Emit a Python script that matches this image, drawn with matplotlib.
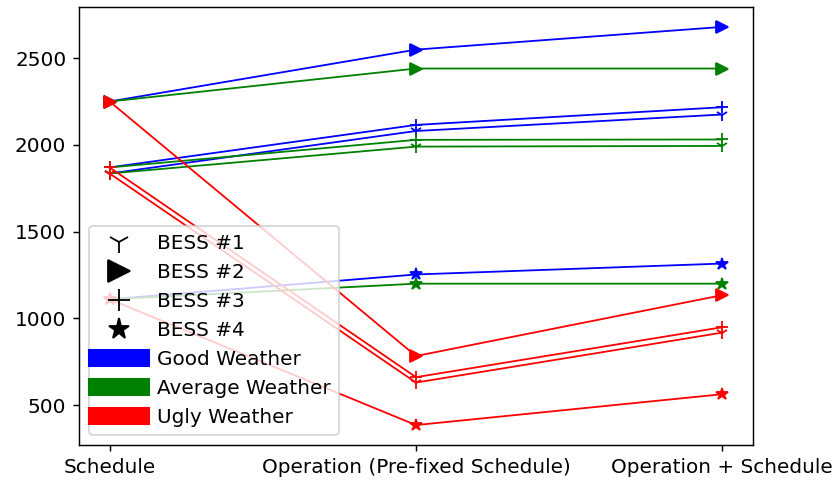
import matplotlib
matplotlib.use("Agg")
import matplotlib.pyplot as plt
from matplotlib.lines import Line2D

stages = ["Schedule", "Operation (Pre-fixed Schedule)", "Operation + Schedule"]

bess_names = ["BESS #1", "BESS #2", "BESS #3", "BESS #4"]
bess_markers = ["1", ">", "+", "*"]

weather_names = ["Good Weather", "Average Weather", "Ugly Weather"]
weather_colors = ["blue", "green", "red"]

# values per BESS (#1..#4) for each stage
good = [
    [1835, 2080, 2175],
    [2250, 2549, 2680],
    [1870, 2115, 2217],
    [1110, 1253, 1316],
]
average = [
    [1835, 1990, 1994],
    [2250, 2440, 2440],
    [1870, 2029, 2031],
    [1110, 1200, 1200],
]
ugly = [
    [1835, 630, 918],
    [2250, 783, 1134],
    [1870, 661, 949],
    [1110, 385, 563],
]

plt.rcParams["font.size"] = 11.1

fig = plt.figure(figsize=(835 / 130, 482 / 130), dpi=130)
ax = fig.add_axes([0.0946, 0.0768, 0.8072, 0.9087])

x = list(range(len(stages)))
for color, series in zip(weather_colors, [good, average, ugly]):
    for marker, vals in zip(bess_markers, series):
        ax.plot(x, vals, color=color, marker=marker, markersize=7, linewidth=1)

ax.set_xticks(x)
ax.set_xticklabels(stages)

handles = [
    Line2D([], [], color="black", marker=m, linestyle="none", markersize=12)
    for m in bess_markers
]
handles += [Line2D([], [], color=c, linewidth=10) for c in weather_colors]
ax.legend(handles, bess_names + weather_names, loc="lower left", handlelength=2.2)

fig.savefig("out.png", dpi=130)
